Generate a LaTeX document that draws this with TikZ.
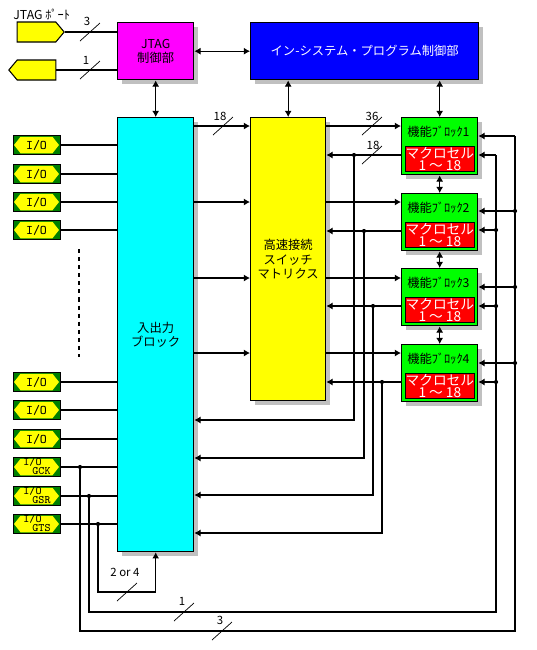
\documentclass[tikz,border=0pt]{standalone}
\usepackage{fontspec}
\setmainfont{Noto Sans CJK JP}
\usetikzlibrary{arrows.meta, positioning, shapes.symbols, shadows}

\definecolor{padgreen}{RGB}{0,128,0}
\definecolor{shgray}{RGB}{192,192,192}
\definecolor{cmag}{RGB}{255,0,255}
\definecolor{cblue}{RGB}{0,0,255}
\definecolor{ccyan}{RGB}{0,255,255}
\definecolor{cyel}{RGB}{255,255,0}
\definecolor{cgreen}{RGB}{0,255,0}
\definecolor{cred}{RGB}{255,0,0}

\tikzset{
  blk/.style={draw, line width=0.8pt, inner sep=1pt, anchor=north west, align=center,
    drop shadow={shadow xshift=0.09cm, shadow yshift=-0.09cm, fill=shgray, opacity=1}},
  fblk/.style={blk, fill=cgreen, minimum width=1.52cm, minimum height=1.14cm},
  mcell/.style={draw, line width=0.7pt, fill=cred, text=white, inner sep=0pt, align=center,
    minimum width=1.36cm, minimum height=0.5cm, font=\fontsize{7.8pt}{6.8pt}\selectfont},
  iopad/.style={draw, fill=padgreen, minimum width=0.94cm, minimum height=0.38cm, inner sep=0pt,
    font=\ttfamily\fontsize{7.5pt}{7.5pt}\selectfont,
    path picture={\fill[cyel] ([xshift=0.02cm]path picture bounding box.west)
      -- ([xshift=0.15cm,yshift=-0.025cm]path picture bounding box.north west)
      -- ([xshift=-0.15cm,yshift=-0.025cm]path picture bounding box.north east)
      -- ([xshift=-0.02cm]path picture bounding box.east)
      -- ([xshift=-0.15cm,yshift=0.025cm]path picture bounding box.south east)
      -- ([xshift=0.15cm,yshift=0.025cm]path picture bounding box.south west) -- cycle;}},
  padtxt/.style={inner sep=0pt, font=\ttfamily\fontsize{6.5pt}{6.5pt}\selectfont},
  jpin/.style={signal, draw, fill=cyel, line width=0.6pt, minimum width=0.94cm,
    minimum height=0.4cm, signal pointer angle=100, inner sep=0pt},
  wire/.style={line width=0.6pt},
  arr/.style={wire, -{Latex[length=3.5pt,width=4pt]}},
  dbl/.style={wire, {Latex[length=3.5pt,width=4pt]}-{Latex[length=3.5pt,width=4pt]}},
  slash/.style={line width=0.4pt},
  num/.style={inner sep=0pt, font=\fontsize{6.5pt}{7pt}\selectfont},
  junc/.style={circle, fill, inner sep=0pt, minimum size=2.4pt},
}

\begin{document}
\begin{tikzpicture}[x=0.02cm, y=-0.02cm, font=\fontsize{7pt}{8.2pt}\selectfont]
  \useasboundingbox (0,0) rectangle (537,650);

  % JTAG port
  \node[anchor=west, inner sep=0pt] (portlbl) at (13,14) {JTAG ﾎﾟｰﾄ};
  \node[jpin, signal to=east] (pin1) at (36.5,32) {};
  \node[jpin, signal to=west] (pin2) at (36.5,70) {};

  % blocks
  \node[blk, fill=cmag, minimum width=1.52cm, minimum height=1.14cm] (jtag) at (117,22) {JTAG\\制御部};
  \node[blk, fill=cblue, text=white, minimum width=4.56cm, minimum height=1.14cm] (isp) at (250,22) {イン-システム・プログラム制御部};
  \node[blk, fill=ccyan, minimum width=1.52cm, minimum height=8.68cm] (iob) at (117,117) {入出力\\ブロック};
  \node[blk, fill=cyel, minimum width=1.5cm, minimum height=5.66cm] (swm) at (250,117) {高速接続\\スイッチ\\マトリクス};

  \foreach \i/\y in {1/117,2/193,3/268,4/344} {
    \node[fblk] (fb\i) at (401,\y) {};
    \node[inner sep=0pt, below right=0.17cm and 0.12cm of fb\i.north west] (fbt\i) {機能ﾌﾞﾛｯｸ\i};
    \node[mcell, below right=0.58cm and 0.08cm of fb\i.north west] (mc\i) {マクロセル\\1 〜 18};
  }

  % I/O pads
  \foreach \n/\y in {a/145,b/174,c/202,d/230,e/382,f/410,g/439} {
    \node[iopad] (pad\n) at (36.5,\y) {I/O};
    \draw[wire] (pad\n.east) -- (pad\n.east -| iob.west);
  }
  \foreach \n/\y/\s in {gck/467/GCK,gsr/496/GSR,gts/524/GTS} {
    \node[iopad] (\n) at (36.5,\y) {};
    \node[padtxt] (\n a) at ([xshift=-0.08cm,yshift=0.09cm]\n.center) {I/O};
    \node[padtxt] (\n b) at ([xshift=0.1cm,yshift=-0.09cm]\n.center) {\s};
    \draw[wire] (\n.east) -- (\n.east -| iob.west);
  }
  \draw[wire, dash pattern=on 2.3pt off 2.3pt] (79,249) -- (79,357);

  % JTAG wiring
  \draw[wire] (pin1.east) -- (pin1.east -| jtag.west);
  \draw[wire] (pin2.east) -- (pin2.east -| jtag.west);
  \draw[slash] (90,32) +(-10,9) -- +(10,-9);
  \node[num] (n3a) at (87,21) {3};
  \draw[slash] (90,70) +(-10,9) -- +(10,-9);
  \node[num] (n1a) at (86,60) {1};

  \draw[dbl] (jtag.east) -- (isp.west);
  \draw[dbl] (jtag.south) -- (iob.north);
  \draw[dbl] (isp.south -| swm.north) -- (swm.north);
  \draw[dbl] (isp.south -| fb1.north) -- (fb1.north);
  \foreach \i/\j in {1/2,2/3,3/4}
    \draw[dbl] (fb\i.south) -- (fb\j.north);

  % switch matrix in/out
  \foreach \i/\y in {1/126,2/202,3/278,4/353} {
    \draw[arr] (iob.east |- 0,\y) -- (swm.west |- 0,\y);
    \draw[arr] (swm.east |- 0,\y) -- (fb\i.west |- 0,\y);
  }
  \draw[slash] (223,126) +(-10,9) -- +(10,-9);
  \node[num] (n18a) at (220,116) {18};
  \draw[slash] (372,126) +(-10,9) -- +(10,-9);
  \node[num] (n36) at (372,116) {36};
  \draw[slash] (372,155) +(-10,9) -- +(10,-9);
  \node[num] (n18b) at (373,145) {18};

  % macrocell feedback
  \foreach \i/\y/\x/\z in {1/155/354/420,2/231/364/458,3/306/373/495,4/382/382/533} {
    \draw[arr] (fb\i.west |- 0,\y) -- (swm.east |- 0,\y);
    \node[junc] (jl\i) at (\x,\y) {};
    \draw[arr] (jl\i.center) -- (\x,\z) -- (iob.east |- 0,\z);
  }

  % global lines
  \foreach \i/\ya/\yb in {1/136/155,2/211/230,3/287/306,4/363/382} {
    \draw[arr] (515,\ya) -- (fb\i.east |- 0,\ya);
    \draw[arr] (496,\yb) -- (fb\i.east |- 0,\yb);
  }
  \foreach \y in {211,287,363} \node[junc] (jra\y) at (515,\y) {};
  \foreach \y in {230,306,382} \node[junc] (jrb\y) at (496,\y) {};

  \node[junc] (jck) at (80,467) {};
  \node[junc] (jsr) at (89,496) {};
  \node[junc] (jts) at (98,524) {};
  \draw[wire] (jck.center) -- (80,631) -- (515,631) -- (515,136);
  \draw[wire] (jsr.center) -- (89,612) -- (496,612) -- (496,155);
  \draw[arr] (jts.center) -- (98,592) -- (iob.south |- 0,592) -- (iob.south);

  \draw[slash] (127,592) +(-10,9) -- +(10,-9);
  \node[num] (n24) at (125,572) {2 or 4};
  \draw[slash] (184,612) +(-10,9) -- +(10,-9);
  \node[num] (n1b) at (182,601) {1};
  \draw[slash] (222,631) +(-10,9) -- +(10,-9);
  \node[num] (n3b) at (220,620) {3};
\end{tikzpicture}
\end{document}
